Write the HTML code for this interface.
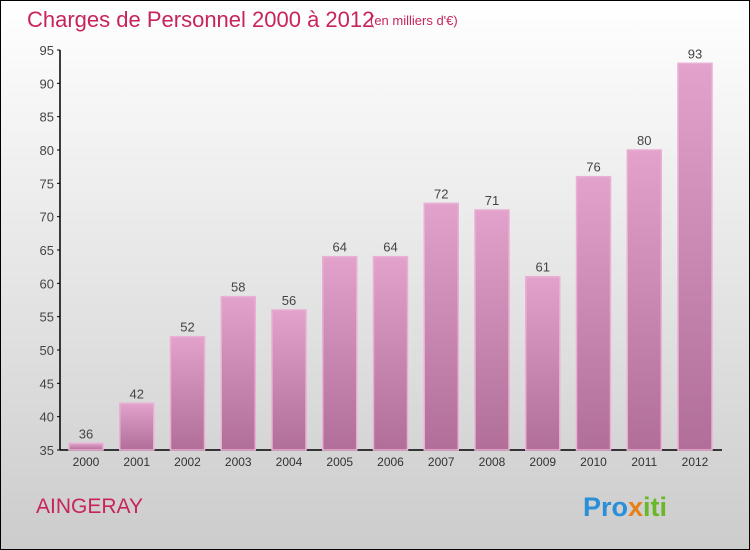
<!DOCTYPE html>
<html><head><meta charset="utf-8"><style>
body{margin:0;}
#wrap{width:748px;height:548px;border:1px solid #000;background:linear-gradient(#ffffff,#cccccc);position:relative;font-family:"Liberation Sans",sans-serif;overflow:hidden}
</style></head><body>
<div id="wrap">
<svg width="750" height="550" style="position:absolute;left:-1px;top:-1px">
<defs><linearGradient id="bg" x1="0" y1="0" x2="0" y2="1"><stop offset="0" stop-color="#e2a2cc"/><stop offset="1" stop-color="#b06e98"/></linearGradient></defs>
<text x="27" y="27" font-size="22" fill="#c8245c">Charges de Personnel 2000 à 2012</text>
<text x="370" y="25" font-size="13" fill="#c8245c">(en milliers d'€)</text>
<g id="axes"></g><g id="bars"></g>
<text x="36" y="513" font-size="21" fill="#c8245c">AINGERAY</text>
<text x="583" y="516" font-size="27" font-weight="bold"><tspan fill="#2a8fd8">Pro</tspan><tspan fill="#e8801a">x</tspan><tspan fill="#6ab82a">iti</tspan></text>
</svg></div>
<script>
const years=["2000","2001","2002","2003","2004","2005","2006","2007","2008","2009","2010","2011","2012"];
const values=[36,42,52,58,56,64,64,72,71,61,76,80,93];
const ticks=[35,40,45,50,55,60,65,70,75,80,85,90,95];
const NS="http://www.w3.org/2000/svg";
const y=v=>450-(v-35)*400/60;
const x=i=>86+i*50.75;
function mk(t,a,p){const e=document.createElementNS(NS,t);for(const k in a)e.setAttribute(k,a[k]);p.appendChild(e);return e;}
const ax=document.getElementById('axes'),bg=document.getElementById('bars');
const yl=mk('line',{x1:60,y1:50,x2:60,y2:450,stroke:'#000','stroke-width':1.5},ax);


const xl=mk('line',{x1:60,y1:450,x2:722,y2:450,stroke:'#000','stroke-width':1.5},ax);


ticks.forEach(t=>{
 mk('line',{x1:57,x2:60,y1:y(t),y2:y(t),stroke:'#000'},ax);
 const tx=mk('text',{x:54,y:y(t)+5,'text-anchor':'end','font-size':13,fill:'#444'},ax);
 tx.textContent=t;
 
 
});
years.forEach((yr,i)=>{
 const v=values[i];
 const r=mk('rect',{x:x(i)-17,y:y(v),width:34,height:450-y(v),fill:'url(#bg)',stroke:'#eab0d4','stroke-width':1.5},bg);
 
 
 const vl=mk('text',{x:x(i),y:y(v)-5,'text-anchor':'middle','font-size':13,fill:'#444'},bg);
 vl.textContent=v;
 
 
 const xl2=mk('text',{x:x(i),y:466,'text-anchor':'middle','font-size':12,fill:'#333'},bg);
 xl2.textContent=yr;
 
 
});
</script>
</body></html>
